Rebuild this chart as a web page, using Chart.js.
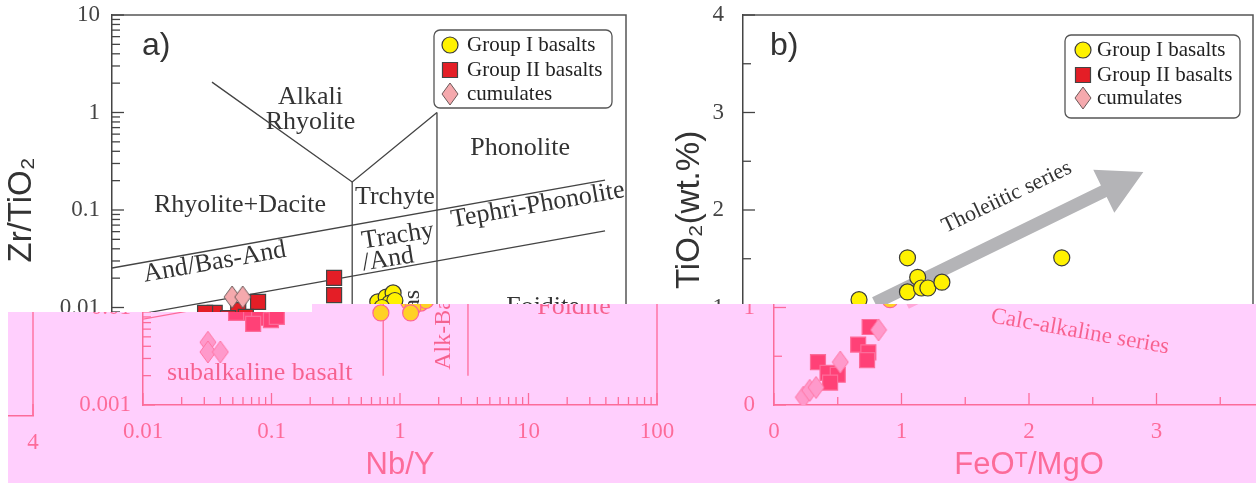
<!DOCTYPE html>
<html>
<head>
<meta charset="utf-8">
<script src="https://cdn.jsdelivr.net/npm/chart.js@4.4.0/dist/chart.umd.min.js"></script>
<style>
  html, body { margin: 0; padding: 0; background: #fff; overflow: hidden; }
  #wrap { position: relative; width: 1256px; height: 486px; overflow: hidden; background: #fff; }
  #chartA { position: absolute; left: 0; top: 0; }
  #chartB { position: absolute; left: 640px; top: 0; }
  #band { position: absolute; left: 0; top: 0; }
</style>
</head>
<body>
<div id="wrap">
  <canvas id="chartA" width="680" height="486"></canvas>
  <canvas id="chartB" width="660" height="486"></canvas>
  <canvas id="band" width="1256" height="486"></canvas>
</div>
<script>
// ---- panel a: Nb/Y vs Zr/TiO2 (log-log) ----
const g1NbY = [0.71, 1.17, 1.36, 1.54, 1.45, 1.59, 1.26, 1.21];
const g1ZrTiO2 = [0.0088, 0.0114, 0.0128, 0.0141, 0.0111, 0.0118, 0.0100, 0.0088];
const g2NbY = [0.535, 0.535, 0.137, 0.096, 0.063, 0.053, 0.080, 0.099, 0.072, 0.110];
const g2ZrTiO2 = [0.0201, 0.0134, 0.0114, 0.0094, 0.0088, 0.0088, 0.0078, 0.0074, 0.0068, 0.0080];
const cuNbY = [0.086, 0.104, 0.032, 0.032, 0.040];
const cuZrTiO2 = [0.0128, 0.0128, 0.0044, 0.0035, 0.0035];

// field boundaries of the classification diagram
const lineAlkRhy = [[0.06, 2.05], [0.74, 0.194], [3.38, 1.0]];
const lineV1 = [[0.74, 0.194], [0.74, 0.002]];
const lineV2 = [[3.38, 1.0], [3.38, 0.002]];
const lineUpper = [[0.01, 0.0254], [68.7, 0.203]];
const lineLower = [[0.01, 0.0076], [68.7, 0.061]];

const xTicksA = [0.01, 0.1, 1, 10, 100];
const yTicksA = [0.001, 0.01, 0.1, 1, 10];

// ---- panel b: FeOT/MgO vs TiO2 ----
const g1FeMg = [0.91, 1.29, 1.37, 1.29, 1.40, 1.45, 1.56, 2.50];
const g1TiO2 = [1.08, 1.51, 1.31, 1.16, 1.20, 1.20, 1.26, 1.51];
const g2FeMg = [0.75, 0.66, 0.74, 0.73, 0.345, 0.42, 0.50, 0.44];
const g2TiO2 = [0.80, 0.62, 0.54, 0.46, 0.44, 0.33, 0.31, 0.23];
const cuFeMg = [0.82, 0.52, 0.23, 0.28, 0.33];
const cuTiO2 = [0.77, 0.44, 0.08, 0.15, 0.18];
const arrowFrom = [1.035, 1.046];
const arrowTo = [3.14, 2.39];

const xTicksB = [0, 1, 2, 3, 4];
const yTicksB = [0, 1, 2, 3, 4];

const seriesNames = ['Group I basalts', 'Group II basalts', 'cumulates'];

const serif = "'Liberation Serif', 'Times New Roman', serif";
const sans = "'Liberation Sans', Arial, 'DejaVu Sans', sans-serif";

function pts(xs, ys) { return xs.map((x, i) => ({ x: x, y: ys[i] })); }
function seg(arr) { return arr.map(p => ({ x: p[0], y: p[1] })); }

function diamond() {
  const c = document.createElement('canvas');
  c.width = 18; c.height = 24;
  const g = c.getContext('2d');
  g.beginPath();
  g.moveTo(9, 1); g.lineTo(17, 12); g.lineTo(9, 23); g.lineTo(1, 12); g.closePath();
  g.fillStyle = '#f5a9ad'; g.fill();
  g.strokeStyle = '#6a5858'; g.lineWidth = 1; g.stroke();
  return c;
}
const diamondImg = diamond();

function pointSets(x1, y1, x2, y2, x3, y3) {
  return [
    { label: seriesNames[0], data: pts(x1, y1), order: 3, pointStyle: 'circle', pointRadius: 8,
      backgroundColor: '#fff200', borderColor: '#3a3a3a', borderWidth: 1.2 },
    { label: seriesNames[1], data: pts(x2, y2), order: 2, pointStyle: 'rect', pointRadius: 10.6,
      backgroundColor: '#e41e26', borderColor: '#444', borderWidth: 1.2 },
    { label: seriesNames[2], data: pts(x3, y3), order: 1, pointStyle: diamondImg, pointRadius: 10,
      backgroundColor: '#f5a9ad', borderColor: '#6a5858', borderWidth: 1 }
  ];
}

function boundary(arr) {
  return { data: seg(arr), showLine: true, pointRadius: 0, borderColor: '#444', borderWidth: 1.3, order: 10 };
}

function minorLog(t) {
  const out = [];
  for (let i = 0; i < t.length - 1; i++) for (let k = 2; k < 10; k++) out.push(t[i] * k);
  return out;
}
function minorHalf(t) {
  const out = [];
  for (let i = 0; i < t.length - 1; i++) out.push((t[i] + t[i + 1]) / 2);
  return out;
}

const decor = {
  id: 'decor',
  beforeDatasetsDraw(chart, args, o) {
    const { ctx, scales: { x, y } } = chart;
    ctx.save();
    if (o.arrow) {
      const x0 = x.getPixelForValue(o.arrow[0][0]), y0 = y.getPixelForValue(o.arrow[0][1]);
      const x1 = x.getPixelForValue(o.arrow[1][0]), y1 = y.getPixelForValue(o.arrow[1][1]);
      const L = Math.hypot(x1 - x0, y1 - y0);
      ctx.translate(x0, y0);
      ctx.rotate(Math.atan2(y1 - y0, x1 - x0));
      ctx.beginPath();
      ctx.moveTo(0, -6.5); ctx.lineTo(L - 44, -6.5); ctx.lineTo(L - 44, -24); ctx.lineTo(L, 0);
      ctx.lineTo(L - 44, 24); ctx.lineTo(L - 44, 6.5); ctx.lineTo(0, 6.5); ctx.closePath();
      ctx.fillStyle = '#b4b4b7';
      ctx.fill();
      ctx.setTransform(1, 0, 0, 1, 0, 0);
    }
    for (const t of o.labels) {
      ctx.save();
      ctx.translate(x.getPixelForValue(t.x), y.getPixelForValue(t.y));
      ctx.rotate((t.rot || 0) * Math.PI / 180);
      ctx.font = (t.size || 26) + 'px ' + serif;
      ctx.fillStyle = '#333';
      ctx.textAlign = 'center';
      ctx.textBaseline = 'middle';
      ctx.fillText(t.t, 0, 0);
      ctx.restore();
    }
    ctx.restore();
  },
  afterDatasetsDraw(chart, args, o) {
    const { ctx, chartArea: a, scales: { x, y } } = chart;
    ctx.save();
    // frame top and right
    ctx.strokeStyle = '#555';
    ctx.lineWidth = 1.5;
    ctx.beginPath();
    ctx.moveTo(a.left, a.top); ctx.lineTo(a.right, a.top); ctx.lineTo(a.right, a.bottom);
    ctx.stroke();
    // inward ticks
    ctx.strokeStyle = '#444';
    ctx.lineWidth = 1.3;
    const tick = (v, len, horiz) => {
      ctx.beginPath();
      if (horiz) { const p = x.getPixelForValue(v); ctx.moveTo(p, a.bottom); ctx.lineTo(p, a.bottom - len); }
      else { const p = y.getPixelForValue(v); ctx.moveTo(a.left, p); ctx.lineTo(a.left + len, p); }
      ctx.stroke();
    };
    o.xMajor.forEach(v => tick(v, 12, true));
    o.xMinor.forEach(v => tick(v, 8, true));
    o.yMajor.forEach(v => tick(v, 12, false));
    o.yMinor.forEach(v => tick(v, 8, false));
    // panel letter
    ctx.font = '32px ' + sans;
    ctx.fillStyle = '#333';
    ctx.textAlign = 'left';
    ctx.textBaseline = 'middle';
    ctx.fillText(o.panel, a.left + o.panelDx, a.top + 31);
    // legend box
    const L = o.legend;
    const bx = a.right - L.right - L.w, by = a.top + L.top;
    ctx.beginPath();
    ctx.roundRect(bx, by, L.w, L.h, 6);
    ctx.fillStyle = '#fff';
    ctx.fill();
    ctx.strokeStyle = '#555';
    ctx.lineWidth = 1.3;
    ctx.stroke();
    chart.data.datasets.slice(0, 3).forEach((ds, i) => {
      const cy = by + L.rows[i];
      ctx.fillStyle = ds.backgroundColor;
      ctx.strokeStyle = ds.borderColor;
      ctx.lineWidth = ds.borderWidth;
      Chart.helpers.drawPoint(ctx, { pointStyle: ds.pointStyle, radius: ds.pointRadius, rotation: 0, borderWidth: ds.borderWidth }, bx + L.symX, cy);
      ctx.font = '21px ' + serif;
      ctx.fillStyle = '#222';
      ctx.textAlign = 'left';
      ctx.textBaseline = 'middle';
      ctx.fillText(ds.label, bx + L.textX, cy);
    });
    ctx.restore();
  }
};

const tickFont = { family: serif, size: 23 };
const xTitleFont = { family: sans, size: 31 };
const yTitleFont = { family: sans, size: 33 };

function fixedScale(kind, size) {
  return function (s) {
    if (kind === 'x') { s.height = size; s.paddingLeft = 0; s.paddingRight = 0; }
    else { s.width = size; s.paddingTop = 0; s.paddingBottom = 0; }
  };
}

new Chart(document.getElementById('chartA'), {
  type: 'scatter',
  data: {
    datasets: pointSets(g1NbY, g1ZrTiO2, g2NbY, g2ZrTiO2, cuNbY, cuZrTiO2).concat([
      boundary(lineAlkRhy), boundary(lineV1), boundary(lineV2), boundary(lineUpper), boundary(lineLower)
    ])
  },
  options: {
    responsive: false,
    animation: false,
    events: [],
    layout: { padding: { top: 15, right: 54, left: 0, bottom: 0 } },
    plugins: {
      legend: { display: false },
      tooltip: { enabled: false },
      decor: {
        panel: 'a)', panelDx: 30,
        xMajor: xTicksA, xMinor: minorLog(xTicksA), yMajor: yTicksA, yMinor: minorLog(yTicksA),
        legend: { right: 14, top: 15, w: 178, h: 78, rows: [15, 40, 64], symX: 16, textX: 33 },
        labels: [
          { t: 'Alkali', x: 0.35, y: 1.44 },
          { t: 'Rhyolite', x: 0.35, y: 0.80 },
          { t: 'Phonolite', x: 15, y: 0.43 },
          { t: 'Rhyolite+Dacite', x: 0.099, y: 0.112 },
          { t: 'Trchyte', x: 1.59, y: 0.136 },
          { t: 'Trachy', x: 1.68, y: 0.054, rot: -9 },
          { t: '/And', x: 1.41, y: 0.031, rot: -9 },
          { t: 'Tephri-Phonolite', x: 20.6, y: 0.112, rot: -10 },
          { t: 'And/Bas-And', x: 0.063, y: 0.029, rot: -10 },
          { t: 'Foidite', x: 22.6, y: 0.0101 },
          { t: 'subalkaline basalt', x: 0.081, y: 0.00213 },
          { t: 'Alk-Bas', x: 2.2, y: 0.0059, rot: -90, size: 24 }
        ]
      }
    },
    scales: {
      x: {
        type: 'logarithmic', min: 0.01, max: 100,
        afterFit: fixedScale('x', 81),
        afterBuildTicks: s => { s.ticks = xTicksA.map(v => ({ value: v })); },
        grid: { display: false, drawTicks: false },
        border: { color: '#444', width: 1.5 },
        ticks: { font: tickFont, color: '#444', padding: 13, maxRotation: 0, autoSkip: false, callback: v => String(v) },
        title: { display: true, text: 'Nb/Y', font: xTitleFont, color: '#444', padding: { top: 0, bottom: 2 } }
      },
      y: {
        type: 'logarithmic', min: 0.001, max: 10,
        afterFit: fixedScale('y', 112),
        afterBuildTicks: s => { s.ticks = yTicksA.map(v => ({ value: v })); },
        grid: { display: false, drawTicks: false },
        border: { color: '#444', width: 1.5 },
        ticks: { font: tickFont, color: '#444', padding: 12, autoSkip: false, callback: v => String(v) },
        title: { display: true, text: 'Zr/TiO\u2082', font: yTitleFont, color: '#333', padding: { top: 2, bottom: 0 } }
      }
    }
  },
  plugins: [decor]
});

new Chart(document.getElementById('chartB'), {
  type: 'scatter',
  data: { datasets: pointSets(g1FeMg, g1TiO2, g2FeMg, g2TiO2, cuFeMg, cuTiO2) },
  options: {
    responsive: false,
    animation: false,
    events: [],
    layout: { padding: { top: 15, right: 47, left: 0, bottom: 0 } },
    plugins: {
      legend: { display: false },
      tooltip: { enabled: false },
      decor: {
        panel: 'b)', panelDx: 27,
        arrow: [arrowFrom, arrowTo],
        xMajor: xTicksB, xMinor: minorHalf(xTicksB), yMajor: yTicksB, yMinor: minorHalf(yTicksB),
        legend: { right: 13, top: 20, w: 175, h: 83, rows: [15, 40, 63], symX: 18, textX: 32 },
        labels: [
          { t: 'Tholeiitic series', x: 2.07, y: 2.13, rot: -25.5, size: 22 },
          { t: 'Calc-alkaline series', x: 2.40, y: 0.75, rot: 10, size: 23 }
        ]
      }
    },
    scales: {
      x: {
        type: 'linear', min: 0, max: 4,
        afterFit: fixedScale('x', 81),
        afterBuildTicks: s => { s.ticks = xTicksB.map(v => ({ value: v })); },
        grid: { display: false, drawTicks: false },
        border: { color: '#444', width: 1.5 },
        ticks: { font: tickFont, color: '#444', padding: 13, maxRotation: 0, autoSkip: false },
        title: { display: true, text: 'FeO\u1D40/MgO', font: xTitleFont, color: '#444', padding: { top: 0, bottom: 2 } }
      },
      y: {
        type: 'linear', min: 0, max: 4,
        afterFit: fixedScale('y', 103),
        afterBuildTicks: s => { s.ticks = yTicksB.map(v => ({ value: v })); },
        grid: { display: false, drawTicks: false },
        border: { color: '#444', width: 1.5 },
        ticks: { font: tickFont, color: '#444', padding: 19, autoSkip: false },
        title: { display: true, text: 'TiO\u2082(wt.%)', font: yTitleFont, color: '#333', padding: { top: 30, bottom: 0 } }
      }
    }
  },
  plugins: [decor]
});

// lower strip of the figure: shifted to the right and tinted pink, as in the source image
function tint(r, g, b) {
  const Y = 0.299 * r + 0.587 * g + 0.114 * b;
  const cb = (b - Y) / 1.772 * 0.9 - 1;
  const cr = (r - Y) / 1.402 * 0.9 + 68;
  const y2 = 120 + 0.53 * Y;
  return [y2 + 1.402 * cr, y2 - 0.344 * cb - 0.714 * cr, y2 + 1.772 * cb];
}

function buildBand() {
  const W = 1300, H = 486;
  const src = document.createElement('canvas');
  src.width = W; src.height = H;
  const s = src.getContext('2d');
  s.fillStyle = '#fff';
  s.fillRect(0, 0, W, H);
  s.drawImage(document.getElementById('chartA'), 0, 0);
  s.drawImage(document.getElementById('chartB'), 640, 0);
  const sd = s.getImageData(0, 0, W, H).data;
  const band = document.getElementById('band');
  const bctx = band.getContext('2d');
  const out = bctx.createImageData(1256, 486);
  const od = out.data;
  for (let by = 304; by < 483; by++) {
    for (let bx = 0; bx < 1256; bx++) {
      if (by < 312 && bx < 312) continue;
      const o = (by * 1256 + bx) * 4;
      od[o + 3] = 255;
      if (bx < 8) { od[o] = od[o + 1] = od[o + 2] = 255; continue; }
      let sx = bx - 31, sy = by;
      if (bx < 40) { sx = bx + 1220; sy = by - 11; }
      const i = (sy * W + sx) * 4;
      const c = tint(sd[i], sd[i + 1], sd[i + 2]);
      od[o] = c[0]; od[o + 1] = c[1]; od[o + 2] = c[2];
    }
  }
  bctx.putImageData(out, 0, 0);
}
buildBand();
</script>
</body>
</html>
